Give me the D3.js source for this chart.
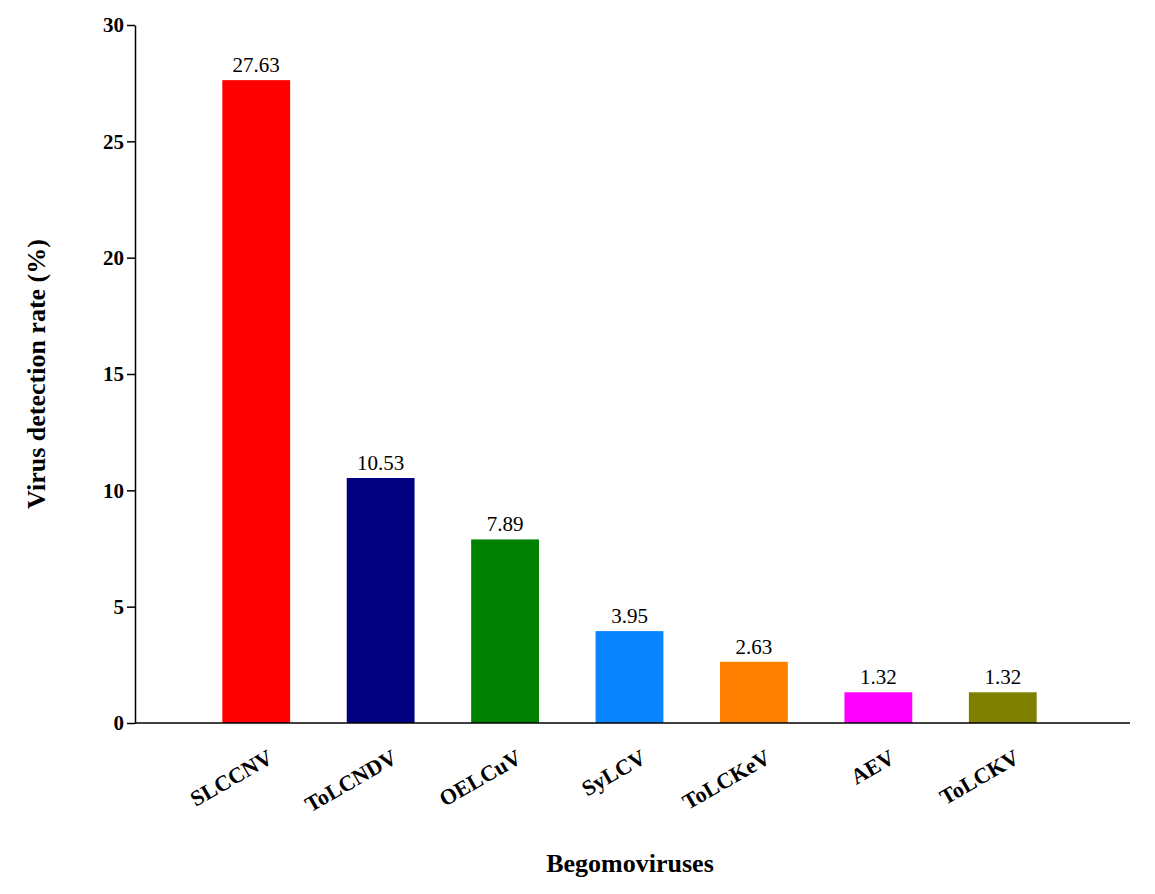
<!DOCTYPE html><html><head><meta charset="utf-8">
<script src="https://cdn.jsdelivr.net/npm/d3@7"></script>
<style>body{margin:0;background:#fff}text{font-family:"Liberation Serif","Times New Roman",serif}</style></head><body>
<svg id="c" width="1155" height="894"></svg>
<script>
const categories=["SLCCNV","ToLCNDV","OELCuV","SyLCV","ToLCKeV","AEV","ToLCKV"];
const values=[27.63,10.53,7.89,3.95,2.63,1.32,1.32];
const colors=["#ff0000","#000080","#008000","#0a84ff","#ff8000","#ff00ff","#808000"];
const yTicks=[0,5,10,15,20,25,30];
const svg=d3.select("#c");
const y=d3.scaleLinear().domain([0,30]).range([723,25]);
const x=d3.scaleBand().domain(categories).range([194,1065]).paddingInner(0.455).paddingOuter(0.2275);
svg.selectAll("rect").data(values).join("rect")
 .attr("x",(d,i)=>x(categories[i])).attr("width",x.bandwidth())
 .attr("y",d=>y(d)).attr("height",d=>723-y(d)).attr("fill",(d,i)=>colors[i]);
svg.selectAll("text.v").data(values).join("text").attr("class","v")
 .attr("x",(d,i)=>x(categories[i])+x.bandwidth()/2).attr("y",d=>y(d)-8)
 .attr("text-anchor","middle").attr("font-size",21).text(d=>d.toFixed(2));
const ya=svg.append("g").attr("transform","translate(135,0)").call(d3.axisLeft(y).tickValues(yTicks).tickSize(8).tickSizeOuter(0));
ya.selectAll("text").attr("font-size",21).attr("font-weight","bold").attr("fill","#000").attr("font-family","Liberation Serif");
ya.selectAll("line,path").attr("stroke","#000").attr("stroke-width",1.5);
svg.append("line").attr("x1",135).attr("x2",1130).attr("y1",723).attr("y2",723).attr("stroke","#000").attr("stroke-width",1.5);
categories.forEach(c=>{
 const cx=x(c)+x.bandwidth()/2;
 svg.append("text").attr("transform",`translate(${cx+10},748) rotate(-30)`).attr("text-anchor","end")
  .attr("dominant-baseline","hanging").attr("font-size",22).attr("font-weight","bold").text(c);
});
svg.append("text").attr("x",630).attr("y",872).attr("text-anchor","middle").attr("font-size",26).attr("font-weight","bold").text("Begomoviruses");
svg.append("text").attr("transform","translate(45,374) rotate(-90)").attr("text-anchor","middle").attr("font-size",26).attr("font-weight","bold").text("Virus detection rate (%)");
</script></body></html>
